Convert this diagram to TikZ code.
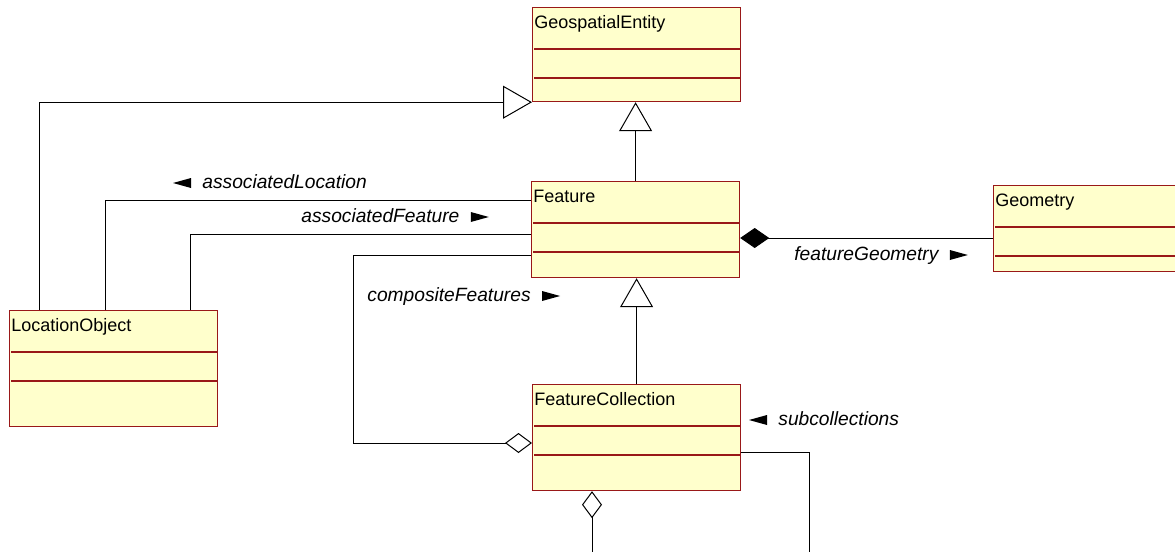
\documentclass[tikz,border=0pt]{standalone}
\usepackage{fontspec}
\setmainfont{Liberation Sans}
\usetikzlibrary{arrows.meta,positioning}

\definecolor{classborder}{RGB}{153,24,24}
\definecolor{classfill}{RGB}{255,255,204}

\tikzset{
  umlclass/.style={draw=classborder, fill=classfill, line width=0.6pt,
    anchor=north west, minimum width=104pt, inner sep=0pt},
  classname/.style={anchor=base west, inner sep=0pt,
    font=\fontsize{9pt}{11pt}\selectfont},
  rolelabel/.style={anchor=base west, inner sep=0pt,
    font=\fontsize{9.6pt}{11pt}\selectfont\itshape},
  classrule/.style={draw=classborder, line width=0.6pt},
  link/.style={draw=black, line width=0.5pt},
  generalization/.style={link, -{Triangle[open, length=14.5pt, width=16.5pt]}},
  aggregation/.style={link, -{Diamond[open, length=13.5pt, width=10pt]}},
  composition/.style={link, -{Diamond[length=14.5pt, width=10pt]}},
}

% the two compartment lines of a class box
\newcommand{\classrules}[1]{%
  \draw[classrule] ([xshift=1pt,yshift=-21pt]#1.north west) -- ([xshift=-0.5pt,yshift=-21pt]#1.north east);
  \draw[classrule] ([xshift=1pt,yshift=-35.5pt]#1.north west) -- ([xshift=-0.5pt,yshift=-35.5pt]#1.north east);}
% reading direction marks of the role names
\newcommand{\pointleft}[1]{%
  \fill ([xshift=-14.5pt,yshift=2.5pt]#1.base west) -- ++(9pt,2.5pt) -- ++(0,-5pt) -- cycle;}
\newcommand{\pointright}[1]{%
  \fill ([xshift=5.5pt,yshift=5pt]#1.base east) -- ++(9pt,-2.5pt) -- ++(-9pt,-2.5pt) -- cycle;}

\begin{document}
\begin{tikzpicture}[x=0.5pt, y=-0.5pt]
  \clip (0,0) rectangle (1175,552);

  % classes
  \node[umlclass, minimum height=47pt] (geo)        at (532,7)   {};
  \node[umlclass, minimum height=48pt] (feature)    at (531,181) {};
  \node[umlclass, minimum height=43pt] (geometry)   at (993,185) {};
  \node[umlclass, minimum height=58pt] (location)   at (9,310)   {};
  \node[umlclass, minimum height=53pt] (collection) at (532,384) {};

  \node[classname] (geoname)        at ([xshift=1pt,yshift=-10.5pt]geo.north west)        {GeospatialEntity};
  \node[classname] (featurename)    at ([xshift=1pt,yshift=-10.5pt]feature.north west)    {Feature};
  \node[classname] (geometryname)   at ([xshift=1pt,yshift=-10.5pt]geometry.north west)   {Geometry};
  \node[classname] (locationname)   at ([xshift=1pt,yshift=-10.5pt]location.north west)   {LocationObject};
  \node[classname] (collectionname) at ([xshift=1pt,yshift=-10.5pt]collection.north west) {FeatureCollection};

  \classrules{geo}
  \classrules{feature}
  \classrules{geometry}
  \classrules{location}
  \classrules{collection}

  % generalizations
  \draw[generalization] ([xshift=15pt]location.north west) |- (geo.south west);
  \draw[generalization] (feature.north) -- (feature.north |- geo.south);
  \draw[generalization] (collection.north) -- (collection.north |- feature.south);

  % associations
  \draw[link] ([xshift=48pt]location.north west) |- ([yshift=-9.5pt]feature.north west);
  \draw[link] ([xshift=90.5pt]location.north west) |- ([yshift=-26.5pt]feature.north west);
  \draw[composition] ([yshift=-26.5pt]geometry.north west) -- ([yshift=-28.5pt]feature.north east);

  \coordinate (compbend) at (353,443);
  \draw[aggregation] ([yshift=-37pt]feature.north west) -| (compbend) -- ([yshift=-29.5pt]collection.north west);

  \coordinate (collbottom) at (592,560);
  \coordinate (subbottom)  at (809,560);
  \draw[aggregation] (collbottom) -- (collbottom |- collection.south);
  \draw[link] ([yshift=-34pt]collection.north east) -| (subbottom);

  % role names
  \node[rolelabel] (assoclocation) at (202,188) {associatedLocation};
  \node[rolelabel] (assocfeature)  at (301,222) {associatedFeature};
  \node[rolelabel] (compfeatures)  at (367,301) {compositeFeatures};
  \node[rolelabel] (featgeometry)  at (794,260) {featureGeometry};
  \node[rolelabel] (subcoll)       at (778,425) {subcollections};

  \pointleft{assoclocation}
  \pointright{assocfeature}
  \pointright{compfeatures}
  \pointright{featgeometry}
  \pointleft{subcoll}
\end{tikzpicture}
\end{document}
